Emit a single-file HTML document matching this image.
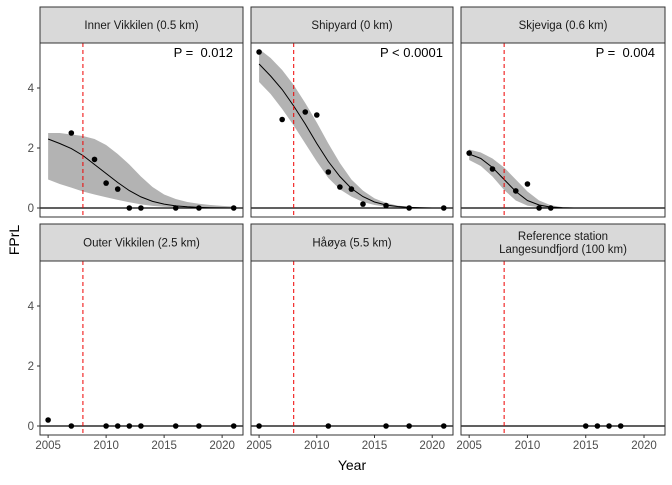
<!DOCTYPE html>
<html><head><meta charset="utf-8"><style>
body{margin:0;background:#fff}
svg text{font-family:"Liberation Sans","DejaVu Sans",sans-serif}
</style></head><body>
<svg id="c" width="672" height="480" xmlns="http://www.w3.org/2000/svg"></svg>
<script>
const panelTitles=[["Inner Vikkilen (0.5 km)"],["Shipyard (0 km)"],["Skjeviga (0.6 km)"],["Outer Vikkilen (2.5 km)"],["Håøya (5.5 km)"],["Reference station","Langesundfjord (100 km)"]];
const pLabels=["P =\u00a0\u00a00.012","P < 0.0001","P =\u00a0\u00a00.004",null,null,null];
const ptYears=[[2007,2009,2010,2011,2012,2013,2016,2018,2021],[2005,2007,2009,2010,2011,2012,2013,2014,2016,2018,2021],[2005,2007,2009,2010,2011,2012],[2005,2007,2010,2011,2012,2013,2016,2018,2021],[2005,2011,2016,2018,2021],[2015,2016,2017,2018]];
const ptVals=[[2.5,1.62,0.83,0.63,0,0,0,0,0],[5.2,2.95,3.2,3.1,1.2,0.7,0.63,0.13,0.08,0,0],[1.83,1.3,0.57,0.8,0,0],[0.2,0,0,0,0,0,0,0,0],[0,0,0,0,0],[0,0,0,0]];
const fitYears=[2005,2006,2007,2008,2009,2010,2011,2012,2013,2014,2015,2016,2017,2018,2019,2020,2021];
const fitVals=[[2.3,2.15,1.98,1.75,1.45,1.15,0.85,0.58,0.37,0.22,0.13,0.07,0.04,0.02,0.01,0.005,0],[4.8,4.4,3.95,3.4,2.8,2.15,1.55,1.05,0.65,0.38,0.2,0.1,0.05,0.02,0.01,0,0],[1.8,1.65,1.35,0.95,0.55,0.25,0.1,0.03,0.01,0,0,0,0,0,0,0,0],null,null,null];
const fitUpper=[[2.5,2.5,2.45,2.4,2.3,2.1,1.8,1.45,1.05,0.7,0.45,0.3,0.2,0.14,0.1,0.07,0.05],[5.3,5.0,4.6,4.1,3.5,2.85,2.15,1.5,0.95,0.58,0.32,0.17,0.08,0.04,0.02,0.01,0],[1.95,1.85,1.65,1.35,0.95,0.55,0.25,0.09,0.03,0.01,0,0,0,0,0,0,0],null,null,null];
const fitLower=[[0.95,0.8,0.68,0.55,0.45,0.36,0.27,0.19,0.12,0.07,0.04,0.02,0.01,0.005,0,0,0],[4.2,3.8,3.3,2.75,2.15,1.55,1.0,0.62,0.38,0.2,0.1,0.04,0.02,0.01,0,0,0],[1.6,1.4,1.05,0.6,0.25,0.08,0.02,0,0,0,0,0,0,0,0,0,0],null,null,null];
const xTicks=[2005,2010,2015,2020];
const yTicks=[0,2,4];
const interventionYear=2008;

const svg=document.getElementById('c');
const NS='http://www.w3.org/2000/svg';
function mk(t,a,p){const e=document.createElementNS(NS,t);for(const k in a)e.setAttribute(k,a[k]);(p||svg).appendChild(e);return e;}
const cols=[[40,243],[251,453],[461,665]];
const rows=[[7,43,217],[224,261,435]];
const xMin=2004.3,xMax=2021.8,yMin=-0.3,yMax=5.5;
for(let i=0;i<6;i++){
  const c=cols[i%3],r=rows[Math.floor(i/3)];
  const g=mk('g',{});
  
  
  const X=v=>c[0]+(v-xMin)/(xMax-xMin)*(c[1]-c[0]);
  const Y=v=>r[2]-(v-yMin)/(yMax-yMin)*(r[2]-r[1]);
  const strip=mk('rect',{x:c[0],y:r[0],width:c[1]-c[0],height:r[1]-r[0],fill:'#d9d9d9',stroke:'#333','stroke-width':1},g);
  
  
  const tl=panelTitles[i];
  tl.forEach((s,k)=>{const t=mk('text',{x:(c[0]+c[1])/2,y:(r[0]+r[1])/2+4+(k-(tl.length-1)/2)*13,'text-anchor':'middle','font-size':11.5,fill:'#1a1a1a'},g);t.textContent=s;
    });
  mk('rect',{x:c[0],y:r[1],width:c[1]-c[0],height:r[2]-r[1],fill:'#fff'},g);
  if(fitVals[i]){
    let d='';fitYears.forEach((y,k)=>d+=(k?'L':'M')+X(y)+','+Y(fitUpper[i][k]));
    for(let k=fitYears.length-1;k>=0;k--)d+='L'+X(fitYears[k])+','+Y(fitLower[i][k]);
    const band=mk('path',{d:d+'Z',fill:'#b3b3b3'},g);
    
    let l='';fitYears.forEach((y,k)=>l+=(k?'L':'M')+X(y)+','+Y(fitVals[i][k]));
    const fl=mk('path',{d:l,fill:'none',stroke:'#000','stroke-width':1},g);
    
  }
  const hz=mk('line',{x1:c[0],x2:c[1],y1:Y(0),y2:Y(0),stroke:'#000','stroke-width':1.2},g);
  
  const vl=mk('line',{x1:X(interventionYear),x2:X(interventionYear),y1:r[1],y2:r[2],stroke:'#e00','stroke-width':1,'stroke-dasharray':'4,3'},g);
  
  ptYears[i].forEach((y,k)=>{const p=mk('circle',{cx:X(y),cy:Y(ptVals[i][k]),r:2.8,fill:'#000'},g);
    });
  if(pLabels[i]){const t=mk('text',{x:c[1]-10,y:r[1]+14,'text-anchor':'end','font-size':13,fill:'#000'},g);t.textContent=pLabels[i];
    }
  mk('rect',{x:c[0],y:r[1],width:c[1]-c[0],height:r[2]-r[1],fill:'none',stroke:'#333','stroke-width':1},g);
  if(i%3==0) yTicks.forEach(v=>{mk('line',{x1:c[0]-3,x2:c[0],y1:Y(v),y2:Y(v),stroke:'#333'},g);
    const t=mk('text',{x:c[0]-6,y:Y(v)+4,'text-anchor':'end','font-size':11.5,fill:'#4d4d4d'},g);t.textContent=v;
    });
  if(i>=3) xTicks.forEach(v=>{mk('line',{x1:X(v),x2:X(v),y1:r[2],y2:r[2]+3,stroke:'#333'},g);
    const t=mk('text',{x:X(v),y:r[2]+14,'text-anchor':'middle','font-size':11.5,fill:'#4d4d4d'},g);t.textContent=v;
    });
}
const xt=mk('text',{x:352,y:470,'text-anchor':'middle','font-size':14,fill:'#000'});xt.textContent='Year';

const yt=mk('text',{x:0,y:0,transform:'translate(19,240) rotate(-90)','text-anchor':'middle','font-size':14,fill:'#000'});yt.textContent='FPrL';

</script>
</body></html>
